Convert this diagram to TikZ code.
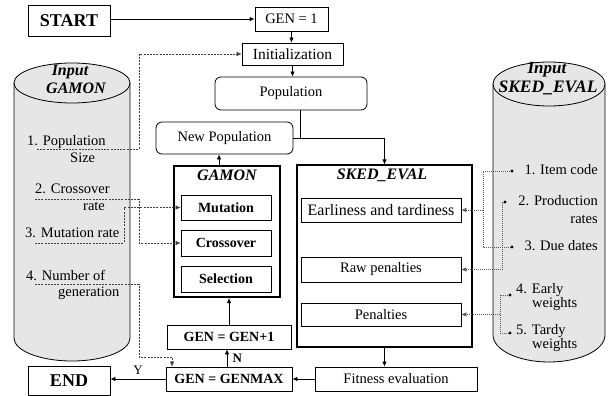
\documentclass[tikz,border=0pt]{standalone}
\usepackage{fontspec}
\setmainfont{Liberation Serif}
\usetikzlibrary{arrows.meta}
\definecolor{cyl}{HTML}{E6E6E6}
\begin{document}
\begin{tikzpicture}[x=1pt,y=-1pt,
  box/.style={draw,line width=0.8pt,inner sep=0pt,align=center,font=\fontsize{14.5}{16}\selectfont},
  bbox/.style={box,font=\fontsize{14}{16}\selectfont\bfseries},
  ttl/.style={inner sep=0pt,font=\fontsize{16}{18}\selectfont\bfseries\itshape},
  lbl/.style={inner sep=0pt,font=\fontsize{14.5}{16}\selectfont,text height=9pt,text depth=2pt},
  arr/.style={line width=0.8pt,-{Latex[length=5pt,width=4.5pt]}},
  dsh/.style={line width=0.5pt,black!75,dash pattern=on 2pt off 1.2pt},
  dotl/.style={line width=0.5pt,black!65,dash pattern=on 1pt off 1pt},
  tip/.style={-{Latex[length=5pt,width=4.5pt]}}
]
\useasboundingbox (0,0) rectangle (613,396);

% cylinders
\filldraw[fill=cyl,line width=0.8pt] (14,83) -- (14,338) arc[start angle=180,end angle=360,x radius=58pt,y radius=23pt] -- (130,83) -- cycle;
\filldraw[fill=cyl,line width=0.8pt] (72,83) ellipse[x radius=58pt,y radius=20pt];
\filldraw[fill=cyl,line width=0.8pt] (493,84) -- (493,335) arc[start angle=180,end angle=360,x radius=56pt,y radius=27pt] -- (605,84) -- cycle;
\filldraw[fill=cyl,line width=0.8pt] (549,84) ellipse[x radius=56pt,y radius=22pt];

\node[ttl] (inl) at (70,72) {Input};
\node[ttl] (gl) at (76,88) {GAMON};
\node[ttl,font=\fontsize{17}{19}\selectfont\bfseries\itshape] (inr) at (547,70) {Input};
\node[ttl,font=\fontsize{17.5}{19}\selectfont\bfseries\itshape] (sr) at (548,88) {SKED\_EVAL};

% left texts
\node[lbl,anchor=west] (t1) at (27,142) {1. Population};
\node[lbl,anchor=west] (t1b) at (70,159) {Size};
\node[lbl,anchor=west] (t2) at (35,190) {2. Crossover};
\node[lbl,anchor=west] (t2b) at (83,207) {rate};
\node[lbl,anchor=west] (t3) at (25,234) {3. Mutation rate};
\node[lbl,anchor=west] (t4) at (26,277) {4. Number of};
\node[lbl,anchor=west] (t4b) at (58,293) {generation};

% right texts
\node[lbl,anchor=east] (s1) at (598,171) {1. Item code};
\node[lbl,anchor=east] (s2) at (598,202) {2. Production};
\node[lbl,anchor=east] (s2b) at (598,220) {rates};
\node[lbl,anchor=east] (s3) at (598,247) {3. Due dates};
\node[lbl,anchor=west] (s4) at (516,290) {4. Early};
\node[lbl,anchor=west] (s4b) at (532,304) {weights};
\node[lbl,anchor=west] (s5) at (516,331) {5. Tardy};
\node[lbl,anchor=west] (s5b) at (532,345) {weights};

% boxes
\node[box,minimum width=82pt,minimum height=31pt,font=\fontsize{18}{20}\selectfont\bfseries] (start) at (69,20.5) {START};
\node[box,minimum width=73pt,minimum height=24pt] (gen1) at (291.5,19) {GEN = 1};
\node[box,minimum width=101pt,minimum height=22pt,font=\fontsize{15.5}{17}\selectfont] (init) at (292.5,54) {Initialization};
\node[box,rounded corners=6pt,minimum width=152pt,minimum height=33pt] (pop) at (291,93.5) {Population};
\node[box,rounded corners=6pt,minimum width=137pt,minimum height=32pt] (newpop) at (224.5,138) {New Population};
\node[draw,line width=2pt,minimum width=106pt,minimum height=131pt,inner sep=0pt] (gamon) at (227,231.5) {};
\node[ttl] (gamont) at (227,175) {GAMON};
\node[bbox,minimum width=90pt,minimum height=25pt] (mut) at (226,207.5) {Mutation};
\node[bbox,minimum width=90pt,minimum height=26pt] (cross) at (226,243) {Crossover};
\node[bbox,minimum width=90pt,minimum height=26pt] (sel) at (226,279) {Selection};
\node[bbox,minimum width=124pt,minimum height=24pt] (genp) at (229,337) {GEN = GEN+1};
\node[bbox,minimum width=126pt,minimum height=24pt] (genmax) at (229,379) {GEN = GENMAX};
\node[box,minimum width=82pt,minimum height=29pt,font=\fontsize{18}{20}\selectfont\bfseries] (end) at (69,380.5) {END};
\node[box,minimum width=162pt,minimum height=24pt] (fit) at (396,379) {Fitness evaluation};
\node[draw,line width=1.1pt,minimum width=175pt,minimum height=182pt,inner sep=0pt] (sked) at (384.5,256) {};
\node[ttl] (skedt) at (382,175) {SKED\_EVAL};
\node[box,minimum width=160pt,minimum height=24pt,font=\fontsize{16}{18}\selectfont] (early) at (381,210) {Earliness and tardiness};
\node[box,minimum width=160pt,minimum height=25pt] (raw) at (381,269.5) {Raw penalties};
\node[box,minimum width=160pt,minimum height=23pt] (pen) at (381,314.5) {Penalties};

% main connectors
\draw[arr] (start.east |- gen1.west) -- (gen1.west);
\draw[arr] (gen1.south) -- (gen1.south |- init.north);
\draw[arr] (init.south) -- (init.south |- pop.north);
\coordinate (j) at (300,138);
\draw[line width=0.8pt] (pop.south -| j) -- (j);
\draw[arr] (newpop.east) -- (newpop.east -| sked.north) -- (sked.north);
\draw[arr] ([xshift=-8pt]gamon.north) -- ([xshift=-8pt]gamon.north |- newpop.south);
\draw[arr] (genp.north) -- (genp.north |- gamon.south);
\draw[arr] ([xshift=-2pt]genmax.north) -- ([xshift=-2pt]genmax.north |- genp.south)
  node[midway,right=2pt,font=\fontsize{13}{14}\selectfont\bfseries] (nlab) {N};
\draw[arr] (genmax.west) -- (genmax.west -| end.east)
  node[midway,above=1pt,font=\fontsize{13}{14}\selectfont] (ylab) {Y};
\draw[arr] (fit.west) -- (fit.west -| genmax.east);
\draw[arr] (sked.south) -- (sked.south |- fit.north);

% left dashed
\coordinate (p1) at (37,149);
\coordinate (p2) at (35,199);
\coordinate (p3) at (35,243);
\coordinate (p4) at (35,284);
\draw[dsh,tip] (p1) -- ++(102,0) |- (init.west);
\draw[dsh,tip] (p2) -- ++(104,0) |- (cross.west);
\draw[dsh,tip] (p3) -- ++(89,0) |- (mut.west);
\draw[dsh,tip] (p4) -- ++(104,0) -- ++(0,73) -| ([xshift=-57pt]genmax.north);

% right dotted
\coordinate (b1) at (512,171);
\coordinate (b2) at (505,202);
\coordinate (b3) at (512,247);
\coordinate (b4) at (510,295);
\coordinate (b5) at (510,333);
\coordinate (r1) at (483,210);
\coordinate (r3) at (500,314.5);
\draw[dotl] (b1) -- ++(-29,0) |- (b3);
\draw[dotl,tip] (r1) -- (early.east);
\draw[dotl,tip] (b2) -- ++(-3,0) |- (raw.east);
\draw[dotl] (b4) -- ++(-10,0) |- (b5);
\draw[dotl,tip] (r3) -- (pen.east);
\foreach \b in {b1,b2,b3,b4,b5} \fill (\b) circle[radius=1.6pt];
\end{tikzpicture}
\end{document}
